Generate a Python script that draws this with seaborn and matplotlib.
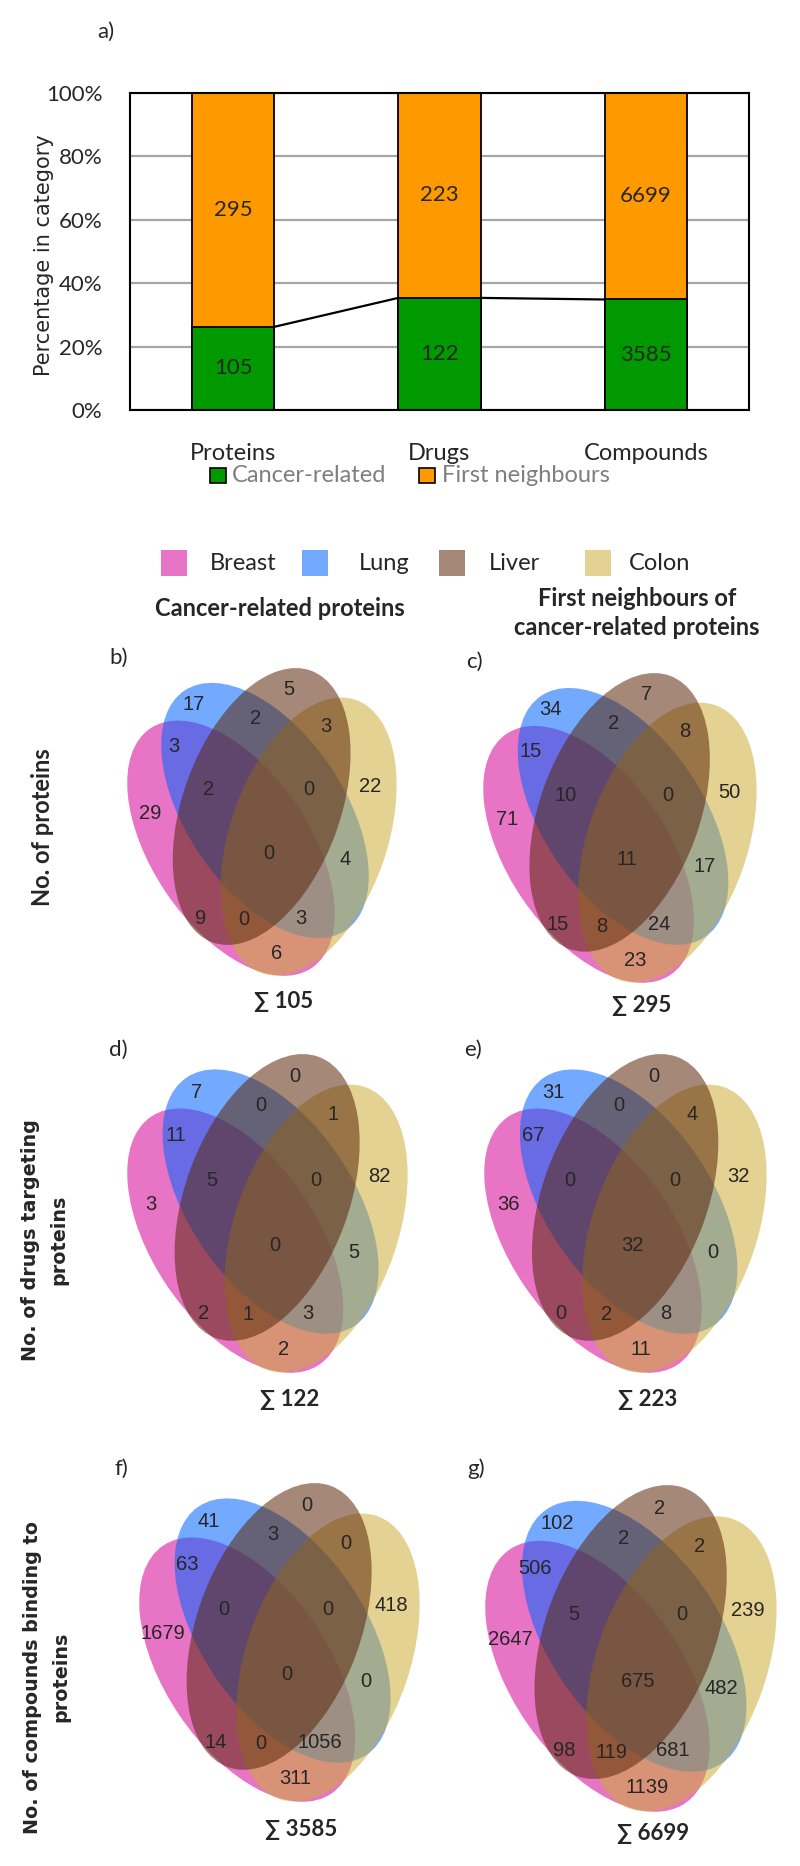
import numpy as np
import pandas as pd
import matplotlib
matplotlib.use('Agg')
import matplotlib.pyplot as plt
from matplotlib.patches import Ellipse, Rectangle
import seaborn as sns

sns.set_style("white")
plt.rcParams['font.family'] = ['Lato', 'DejaVu Sans']

W, H = 800, 1866

# a) proteins / drugs / compounds
categories = ['Proteins', 'Drugs', 'Compounds']
cancer_related = [105, 122, 3585]
first_neighbours = [295, 223, 6699]
series_names = ['Cancer-related', 'First neighbours']
bar_colors = ['#009A00', '#FF9900']

# b-g) four-set venn counts, same region order everywhere
tissues = ['Breast', 'Lung', 'Liver', 'Colon']
tissue_colors = ['#D50294', '#0064FF', '#5B270A', '#CCAD37']
regions = ['B', 'Lu', 'Li', 'Co', 'B&Lu', 'Lu&Li', 'Li&Co', 'B&Lu&Li', 'Lu&Li&Co',
           'B&Lu&Li&Co', 'B&Li', 'Lu&Co', 'B&Li&Co', 'B&Lu&Co', 'B&Co']
venn_b = [29, 17, 5, 22, 3, 2, 3, 2, 0, 0, 9, 4, 0, 3, 6]
venn_c = [71, 34, 7, 50, 15, 2, 8, 10, 0, 11, 15, 17, 8, 24, 23]
venn_d = [3, 7, 0, 82, 11, 0, 1, 5, 0, 0, 2, 5, 1, 3, 2]
venn_e = [36, 31, 0, 32, 67, 0, 4, 0, 0, 32, 0, 0, 2, 8, 11]
venn_f = [1679, 41, 0, 418, 63, 3, 0, 0, 0, 0, 14, 0, 0, 1056, 311]
venn_g = [2647, 102, 2, 239, 506, 2, 2, 5, 0, 675, 98, 482, 119, 681, 1139]
panel_letters = ['b)', 'c)', 'd)', 'e)', 'f)', 'g)']
column_titles = ['Cancer-related proteins', 'First neighbours of\ncancer-related proteins']
row_titles = ['No. of proteins', 'No. of drugs targeting\nproteins',
              'No. of compounds binding to\nproteins']

# ---- layout (pixels of the 800x1866 canvas) ----
def box(x0, y0, x1, y1):
    return [x0 / W, 1 - y1 / H, (x1 - x0) / W, (y1 - y0) / H]

# ellipse geometry in a local venn frame (y down)
ell_geom = {'Breast': (332, 565, 56), 'Lung': (434, 452, 56),
            'Liver': (424, 440, 110), 'Colon': (565, 530, 109)}
ell_order = {'Breast': 1, 'Lung': 2, 'Colon': 3, 'Liver': 4}
label_pos = {'B': (90, 460), 'Lu': (220, 135), 'Li': (505, 90), 'Co': (748, 380),
             'B&Lu': (160, 260), 'Lu&Li': (405, 175), 'Li&Co': (615, 200),
             'B&Lu&Li': (265, 390), 'Lu&Li&Co': (565, 390), 'B&Lu&Li&Co': (445, 580),
             'B&Li': (240, 775), 'Lu&Co': (675, 600), 'B&Li&Co': (370, 780),
             'B&Lu&Co': (540, 775), 'B&Co': (470, 880)}
venn_boxes = [(127, 668, 397, 976), (483, 673, 757, 983),
              (127, 1054, 408, 1373), (484, 1054, 767, 1373),
              (139, 1483, 420, 1802), (485, 1485, 777, 1812)]
sum_y = [1002, 1005, 1400, 1400, 1830, 1833]
letter_xy = [(119, 658), (474, 662), (118, 1050), (473, 1050), (121, 1469), (476, 1469)]

fig = plt.figure(figsize=(8, 18.66), dpi=100)

# ---- a) stacked percentage bars ----
df = pd.DataFrame({'category': categories, 'cancer': cancer_related,
                   'first': first_neighbours})
df['total'] = df['cancer'] + df['first']
df['cancer_pct'] = df['cancer'] / df['total'] * 100
df['total_pct'] = df['total'] / df['total'] * 100

ax = fig.add_axes(box(130, 93, 749, 410))
ax.set_axisbelow(True)
ax.yaxis.grid(True, color='#A6A6A6', linewidth=1.6)
sns.barplot(data=df, x='category', y='total_pct', color=bar_colors[1], saturation=1,
            width=0.4, edgecolor='black', linewidth=1.3, ax=ax)
sns.barplot(data=df, x='category', y='cancer_pct', color=bar_colors[0], saturation=1,
            width=0.4, edgecolor='black', linewidth=1.3, ax=ax)
for i in range(len(df) - 1):
    ax.plot([i + 0.2, i + 0.8], [df['cancer_pct'][i], df['cancer_pct'][i + 1]],
            color='black', linewidth=1.6, zorder=5)
for i, r in df.iterrows():
    ax.text(i, r['cancer_pct'] / 2, str(r['cancer']), ha='center', va='center', fontsize=16)
    ax.text(i, r['cancer_pct'] + (100 - r['cancer_pct']) / 2, str(r['first']),
            ha='center', va='center', fontsize=16)
ax.set_xlim(-0.5, 2.5)
ax.set_ylim(0, 100)
ax.set_yticks(range(0, 101, 20))
ax.set_yticklabels([f'{v}%' for v in range(0, 101, 20)])
ax.tick_params(axis='y', length=0, pad=20, labelsize=16)
ax.tick_params(axis='x', length=0, pad=24, labelsize=17)
ax.set_xlabel('')
ax.set_ylabel('')
for s in ax.spines.values():
    s.set_color('black')
    s.set_linewidth(1.5)

# ---- venn panels ----
venn_data = [venn_b, venn_c, venn_d, venn_e, venn_f, venn_g]
for k, counts in enumerate(venn_data):
    vax = fig.add_axes(box(*venn_boxes[k]))
    vax.set_xlim(20, 830)
    vax.set_ylim(948, 25)
    vax.axis('off')
    for t, col in zip(tissues, tissue_colors):
        cx, cy, ang = ell_geom[t]
        vax.add_patch(Ellipse((cx, cy), 866, 472, angle=ang, facecolor=col,
                              alpha=0.55, linewidth=0, zorder=ell_order[t]))
    for reg, n in zip(regions, counts):
        px, py = label_pos[reg]
        vax.text(px, py, str(n), ha='center', va='center', fontsize=14.5,
                 family=['Liberation Sans', 'DejaVu Sans'], zorder=10)

# ---- annotations on a pixel overlay ----
ov = fig.add_axes([0, 0, 1, 1])
ov.set_xlim(0, W)
ov.set_ylim(H, 0)
ov.axis('off')

ov.text(106, 32, 'a)', ha='center', va='center', fontsize=16)
ov.text(44, 255, 'Percentage in category', rotation=90, ha='center', va='center',
        fontsize=15, family=['DejaVu Sans'])

# bar legend
for (px, tx), name, col in zip([(210, 232), (419, 442)], series_names, bar_colors):
    ov.add_patch(Rectangle((px, 468), 16, 15, facecolor=col, edgecolor='black', linewidth=1.2))
    ov.text(tx, 476, name, ha='left', va='center', fontsize=17, color='#7F7F7F')

# venn legend
for (px, tx), name, col in zip([(161, 210), (302, 359), (439, 489), (585, 629)],
                               tissues, tissue_colors):
    ov.add_patch(Rectangle((px, 550), 26, 26, facecolor=col, alpha=0.55, linewidth=0))
    ov.text(tx, 563, name, ha='left', va='center', fontsize=17)

ov.text(280, 609, column_titles[0], ha='center', va='center', fontsize=17, fontweight='bold')
ov.text(637, 613, column_titles[1], ha='center', va='center', fontsize=17,
        fontweight='bold', linespacing=1.3, multialignment='center')

ov.text(43, 827, row_titles[0], rotation=90, ha='center', va='center',
        fontsize=17, fontweight='bold')
ov.text(45, 1240, row_titles[1], rotation=90, ha='center', va='center', fontsize=13.8,
        fontweight='bold', family=['DejaVu Sans'], linespacing=1.6, multialignment='center')
ov.text(47, 1677, row_titles[2], rotation=90, ha='center', va='center', fontsize=13.8,
        fontweight='bold', family=['DejaVu Sans'], linespacing=1.6, multialignment='center')

for k, counts in enumerate(venn_data):
    x0, y0, x1, y1 = venn_boxes[k]
    ov.text((x0 + x1) / 2 + 22, sum_y[k], f'\u2211 {sum(counts)}', ha='center', va='center',
            fontsize=16, fontweight='bold')
    lx, ly = letter_xy[k]
    ov.text(lx, ly, panel_letters[k], ha='center', va='center', fontsize=16)

fig.savefig('out.png', dpi=100, facecolor='white')
